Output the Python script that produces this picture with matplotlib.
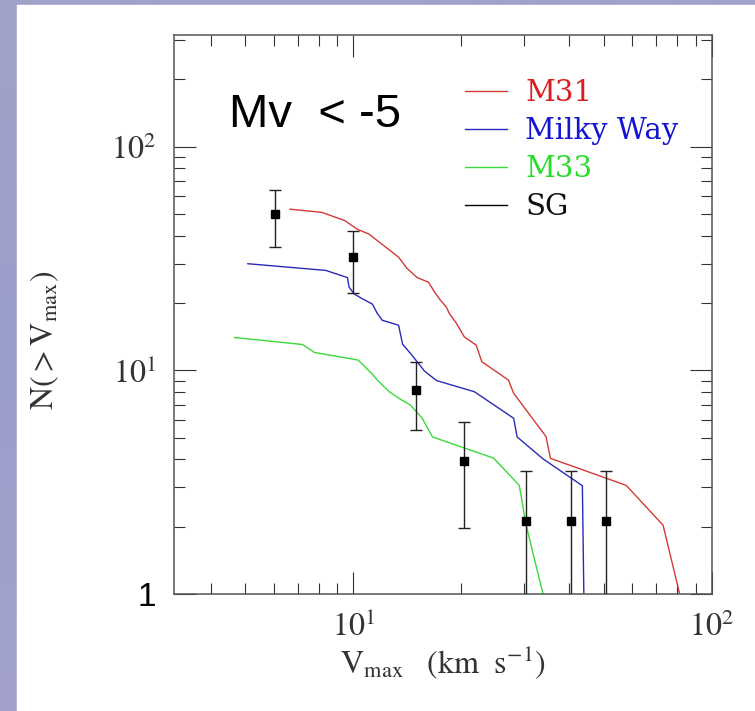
import numpy as np
import matplotlib
matplotlib.use("Agg")
import matplotlib.pyplot as plt
from matplotlib.lines import Line2D
from matplotlib.patches import Rectangle

plt.rcParams["mathtext.fontset"] = "stix"
plt.rcParams["font.family"] = ["STIXGeneral", "DejaVu Serif"]

# Cumulative velocity functions N(>Vmax) of the satellite populations
m31_v = [6.66, 8.17, 9.46, 10.28, 11.03, 12.14, 13.37, 14.11, 15.07, 16.20, 16.94,
         17.49, 18.17, 18.52, 19.38, 20.39, 22.01, 22.81, 27.07, 27.99, 34.45,
         35.46, 42.82, 57.66, 73.06, 81.5]
m31_n = [52.6, 50.9, 46.8, 42.7, 40.8, 36.2, 32.1, 28.6, 26.0, 24.8, 22.1,
         20.6, 19.2, 17.96, 16.25, 14.12, 12.97, 10.94, 9.05, 7.90, 5.06,
         4.04, 3.63, 3.06, 2.03, 0.98]

mw_v = [5.08, 8.38, 9.63, 9.73, 10.04, 10.60, 11.30, 11.67, 12.04, 13.37, 13.72,
        14.43, 15.07, 15.79, 17.05, 21.74, 27.99, 28.62, 33.80, 43.51, 43.93]
mw_n = [30.0, 28.0, 26.0, 23.6, 22.0, 20.9, 19.8, 17.96, 16.76, 15.92, 13.10,
        11.91, 10.92, 9.93, 9.01, 8.03, 6.11, 5.04, 4.02, 3.05, 0.98]

m33_v = [4.66, 7.21, 7.79, 10.32, 11.32, 11.67, 12.59, 13.54, 14.43, 15.56, 16.62,
         24.62, 29.02, 30.31, 33.9]
m33_n = [14.03, 13.06, 12.03, 11.12, 9.58, 9.05, 8.03, 7.42, 7.0, 6.11, 5.04,
         4.05, 3.06, 2.04, 0.98]

# Observed satellites (SG) with their uncertainties
sg_v = [6.05, 10.0, 15.0, 20.3, 30.3, 40.4, 50.6]
sg_n = [50.0, 32.3, 8.2, 3.94, 2.13, 2.13, 2.13]
sg_err_lo = [14.3, 10.0, 2.8, 1.96, 1.5, 1.5, 1.5]
sg_err_hi = [14.1, 9.9, 2.7, 1.92, 1.43, 1.43, 1.43]

labels = ["M31", "Milky Way", "M33", "SG"]
line_colors = ["#d23a36", "#2a2ab8", "#3ada3a", "#000000"]
text_colors = ["#d81e1e", "#1414d2", "#28dc28", "#111111"]

fig = plt.figure(figsize=(7.55, 7.11), dpi=100)
fig.patch.set_facecolor("#9c9ec8")

# lavender backdrop with a white panel
bg = fig.add_axes([0, 0, 1, 1], zorder=-10)
grad = np.linspace(0, 1, 256)[:, None]
bg.imshow(grad, aspect="auto", extent=[0, 1, 0, 1],
          cmap=matplotlib.colors.LinearSegmentedColormap.from_list(
              "bk", ["#a2a2cc", "#9a9ecb", "#a0a2c8"]), origin="lower")
bg.add_patch(Rectangle((17 / 755, 0), 1, 1 - 5 / 711, color="white",
                       transform=bg.transAxes, zorder=2))
bg.set_axis_off()

ax = fig.add_axes([174 / 755, 1 - 594 / 711, (712 - 174) / 755, (594 - 35) / 711])
ax.set_facecolor("none")

h_m31, = ax.plot(m31_v, m31_n, color=line_colors[0], lw=1.0)
h_mw, = ax.plot(mw_v, mw_n, color=line_colors[1], lw=1.0)
h_m33, = ax.plot(m33_v, m33_n, color=line_colors[2], lw=1.0)
ax.errorbar(sg_v, sg_n, yerr=[sg_err_lo, sg_err_hi], fmt="s", color="black",
            ecolor="#222222", elinewidth=1.0, capsize=4, capthick=1.0,
            markersize=5.5, zorder=5)

ax.set_xscale("log")
ax.set_yscale("log")
ax.set_xlim(10 ** 0.5, 100)
ax.set_ylim(1, 10 ** 2.5)

ax.set_xticks([10, 100], labels=[r"$10^{1}$", r"$10^{2}$"])
ax.set_yticks([1, 10, 100], labels=["1", r"$10^{1}$", r"$10^{2}$"])
ax.tick_params(which="both", direction="in", top=True, right=True,
               color="#333333", width=0.8)
ax.tick_params(which="major", length=16, labelsize=23, pad=13,
               labelcolor="#333333")
ax.tick_params(which="minor", length=8)
for lab in ax.get_yticklabels():
    if lab.get_text() == "1":
        lab.set_fontfamily("Liberation Sans")
        lab.set_fontsize(24)
        lab.set_color("black")
for sp in ax.spines.values():
    sp.set_color("#555555")
    sp.set_linewidth(1.1)

ax.set_xlabel(r"$\mathrm{V_{max}\ \ \ (km\ \ s^{-1})}$", fontsize=23, color="#333333")
ax.set_ylabel(r"$\mathrm{N(>V_{max})}$", fontsize=23, color="#333333")
ax.xaxis.set_label_coords(0.5, -0.088)
ax.yaxis.set_label_coords(-0.21, 0.454)

ax.text(0.103, 0.836, "Mv  < -5", transform=ax.transAxes, fontsize=34,
        family="Liberation Sans", va="baseline", ha="left")

handles = [h_m31, h_mw, h_m33, Line2D([], [], color="black", lw=1.0)]
leg = ax.legend(handles, labels, loc="upper left", bbox_to_anchor=(0.541, 0.921),
                frameon=False, prop={"family": "DejaVu Serif", "size": 21},
                handlelength=1.45, handletextpad=0.62,
                labelspacing=0.34, borderpad=0, borderaxespad=0)
for t, c in zip(leg.get_texts(), text_colors):
    t.set_color(c)

fig.savefig("out.png", dpi=100)
